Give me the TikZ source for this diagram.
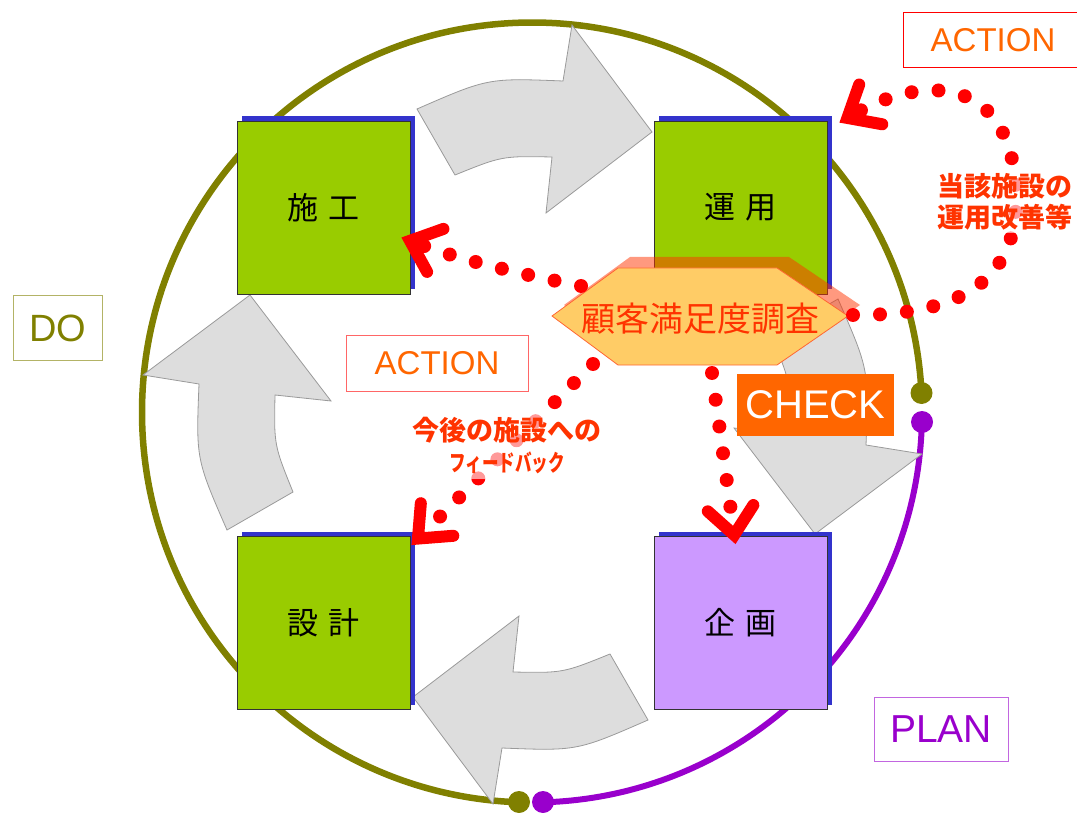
\documentclass[tikz,border=0pt]{standalone}
\usepackage{fontspec}
\usepackage{graphicx}
\setmainfont{Liberation Sans}
\newfontfamily\jp{Noto Sans CJK JP}
\usetikzlibrary{arrows.meta,shadows}
\definecolor{olivec}{HTML}{808000}
\definecolor{purplec}{HTML}{9900CC}
\definecolor{greenbox}{HTML}{99CC00}
\definecolor{purplebox}{HTML}{CC99FF}
\definecolor{shadowblue}{HTML}{3333CC}
\definecolor{arrowgray}{HTML}{DDDDDD}
\definecolor{arrowedge}{HTML}{9A9A9A}
\definecolor{hexfill}{HTML}{FFCC66}
\definecolor{hexedge}{HTML}{FF6633}
\definecolor{redorange}{HTML}{FF3300}
\definecolor{orangec}{HTML}{FF6600}
\begin{document}
\begin{tikzpicture}[x=1pt,y=-1pt,
  phasebox/.style={draw=black!80, line width=0.8pt, minimum width=173pt, minimum height=173pt, inner sep=0pt,
    general shadow={fill=shadowblue, shadow xshift=5pt, shadow yshift=5pt},
    font=\jp\fontsize{31}{36}\selectfont},
  grayarr/.style={fill=arrowgray, draw=arrowedge, line width=0.8pt, line join=miter},
  dotline/.style={draw=red, line width=14pt, line cap=round, dash pattern=on 0pt off 27pt},
  chev/.tip={Straight Barb[length=27pt, width=46pt, line width=12pt, line cap=round, line join=miter]},
  annot/.style={text=redorange, fill=white, fill opacity=0.6, text opacity=1, align=center, inner sep=3pt},
  labelbox/.style={inner sep=0pt, line width=1pt}
]
\useasboundingbox (0,0) rectangle (1077,813);
\clip (0,0) rectangle (1077,813);

% cycle ring
\draw[olivec, line width=6.5pt] ([shift={(-2.86:390)}]532,412.5) arc[start angle=-2.86, end angle=-268.1, radius=390];
\draw[purplec, line width=6pt] ([shift={(1.39:390)}]532,412.5) arc[start angle=1.39, end angle=88.4, radius=390];
\fill[olivec] (921.5,393) circle[radius=11];
\fill[purplec] (922,422) circle[radius=11];
\fill[olivec] (519,802) circle[radius=11];
\fill[purplec] (543,802) circle[radius=11];

% gray cycle arrows
\foreach \a in {0,-90,180,90}{
  \begin{scope}[rotate around={\a:(532.5,414.5)}]
    \draw[grayarr] (455,175) -- (417,109) .. controls (488,78) .. (563,81) -- (572,25) -- (652,132) -- (546,213) -- (552,157) .. controls (502,156) .. (455,175) -- cycle;
  \end{scope}
}

% phase boxes
\node[phasebox, fill=greenbox] (shiko) at (323.5,207.5) {施\hspace{0.35em}工};
\node[phasebox, fill=greenbox] (unyo) at (740.5,207.5) {運\hspace{0.35em}用};
\node[phasebox, fill=greenbox] (sekkei) at (323.5,623) {設\hspace{0.35em}計};
\node[phasebox, fill=purplebox] (kikaku) at (740.5,623) {企\hspace{0.35em}画};

% survey hexagon
\fill[redorange, opacity=0.5] (564,305) -- (630,257) -- (789,257) -- (860,305) -- (789,354) -- (630,354) -- cycle;
\draw[hexedge, fill=hexfill, line width=0.8pt] (552,316) -- (618,268) -- (777,268) -- (848,316) -- (777,365) -- (618,365) -- cycle;
\node[text=redorange, font=\jp\fontsize{34}{40}\selectfont] (survey) at (700,319) {顧客満足度調査};
\coordinate (s1) at (853,315);
\coordinate (s2) at (581,286);
\coordinate (s3) at (593,364);
\coordinate (s4) at (712,373);

% CHECK label
\node[labelbox, fill=orangec, text=white, minimum width=157pt, minimum height=62pt, font=\fontsize{40}{46}\selectfont] (check) at (815.5,405) {CHECK};

% dotted feedback connectors
\draw[dotline, -chev] (s1) .. controls (960,316) and (1016,280) .. (1016,200) .. controls (1016,80) and (930,70) .. ([shift={(12,2)}]unyo.north east);
\draw[dotline, -chev] (s2) .. controls (500,270) and (450,256) .. ([shift={(-9,30)}]shiko.east);
\draw[dotline, -chev] (s3) -- ([shift={(1,9)}]sekkei.north east);
\draw[dotline, -chev] (s4) -- ([shift={(-5,8)}]kikaku.north);

% annotations
\node[annot, font=\jp\bfseries\fontsize{27}{31}\selectfont] (t1) at (1005,202) {当該施設の\\運用改善等};
\node[annot, font=\jp\bfseries\fontsize{27}{31}\selectfont, inner ysep=6pt] (t2) at (507,430) {今後の施設への};
\node[annot, font=\jp\bfseries\fontsize{23}{26}\selectfont, inner ysep=5pt] (t3) at (507,463) {\scalebox{0.72}[1]{フィードバック}};

% phase labels
\node[labelbox, draw=red, minimum width=180pt, minimum height=55pt, text=orangec, font=\fontsize{33}{40}\selectfont] (act1) at (993,40.5) {ACTION};
\node[labelbox, draw=red!60, minimum width=182pt, minimum height=56pt, text=orangec, font=\fontsize{33}{40}\selectfont] (act2) at (437,363) {ACTION};
\node[labelbox, draw=olivec!60, minimum width=89pt, minimum height=64pt, text=olivec, font=\fontsize{38}{44}\selectfont] (do) at (57.5,328) {DO};
\node[labelbox, draw=purplec!60, minimum width=134pt, minimum height=64pt, text=purplec, font=\fontsize{39}{44}\selectfont] (plan) at (941,729) {PLAN};
\end{tikzpicture}
\end{document}
